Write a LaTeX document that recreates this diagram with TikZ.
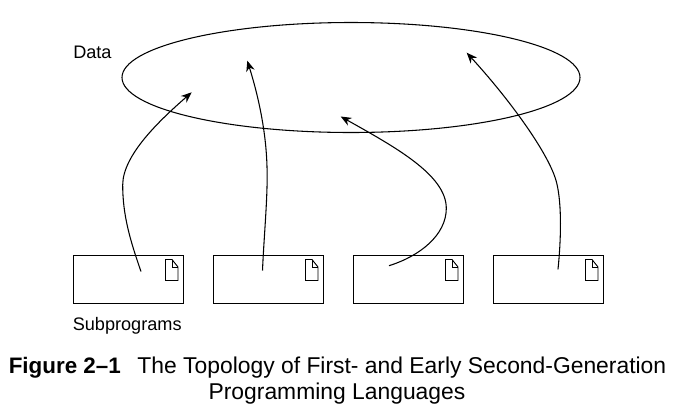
\documentclass[tikz,border=0pt]{standalone}
\usepackage{fontspec}
\setmainfont{Liberation Sans}
\usetikzlibrary{arrows.meta,shapes.geometric}
\tikzset{
 px/.style={x=0.75pt,y=-0.75pt},
 box/.style={draw,line width=0.8pt,minimum width=82.5pt,minimum height=36pt,inner sep=0pt,anchor=north west},
 link/.style={line width=0.8pt,-{Stealth[length=8pt,width=6.5pt]}},
 label/.style={inner sep=0pt,anchor=base west,font=\fontsize{13.6pt}{16pt}\selectfont},
 captionline/.style={inner sep=0pt,font=\fontsize{17.15pt}{20pt}\selectfont}
}
\begin{document}
\begin{tikzpicture}[px]
\useasboundingbox (0,0) rectangle (675,412);
\node[draw,line width=0.8pt,ellipse,minimum width=343.5pt,minimum height=82.5pt,inner sep=0pt] (data) at (351,77.5) {};
\node[label] (dl) at (73,58) {Data};
\foreach \n/\x in {a/73,b/213,c/353,d/493}{
 \node[box] (\n) at (\x,255) {};
 \draw[line width=0.7pt] (\x+92.5,259.5) -- (\x+99,259.5) -- (\x+105,267) -- (\x+105,280.5) -- (\x+92.5,280.5) -- cycle;
 \draw[line width=0.7pt] (\x+99,259.5) -- (\x+99,267) -- (\x+105,267);
}
\coordinate (sa) at (141,271.5);
\coordinate (sb) at (262.5,270.5);
\coordinate (sc) at (389,265.7);
\coordinate (sd) at (558,269.3);
\coordinate (ta) at (191.7,92.3);
\coordinate (tb) at (247.3,60.7);
\coordinate (tc) at (340.7,116.5);
\coordinate (td) at (466.7,52.7);
\draw[link] (sa) .. controls (130,240) and (122.7,215) .. (122.7,185) .. controls (122.7,155) and (160,120) .. (ta);
\draw[link] (sb) .. controls (264,235) and (268,195) .. (267,166.7) .. controls (266,130) and (258,95) .. (tb);
\draw[link] (sc) .. controls (420,256) and (446.3,235) .. (446.3,208.3) .. controls (446.3,175) and (395,147) .. (tc);
\draw[link] (sd) .. controls (561,240) and (562,205) .. (556.7,183) .. controls (550,155) and (510,100) .. (td);
\node[label] (sl) at (72.5,330.5) {Subprograms};
\node[captionline,anchor=base west] (capa) at (8.5,373.3) {{\fontsize{16.8pt}{20pt}\selectfont\bfseries Figure 2–1}\hspace{12.5pt}The Topology of First- and Early Second-Generation};
\node[captionline,anchor=base] (capb) at (337,399.3) {Programming Languages};
\end{tikzpicture}
\end{document}
